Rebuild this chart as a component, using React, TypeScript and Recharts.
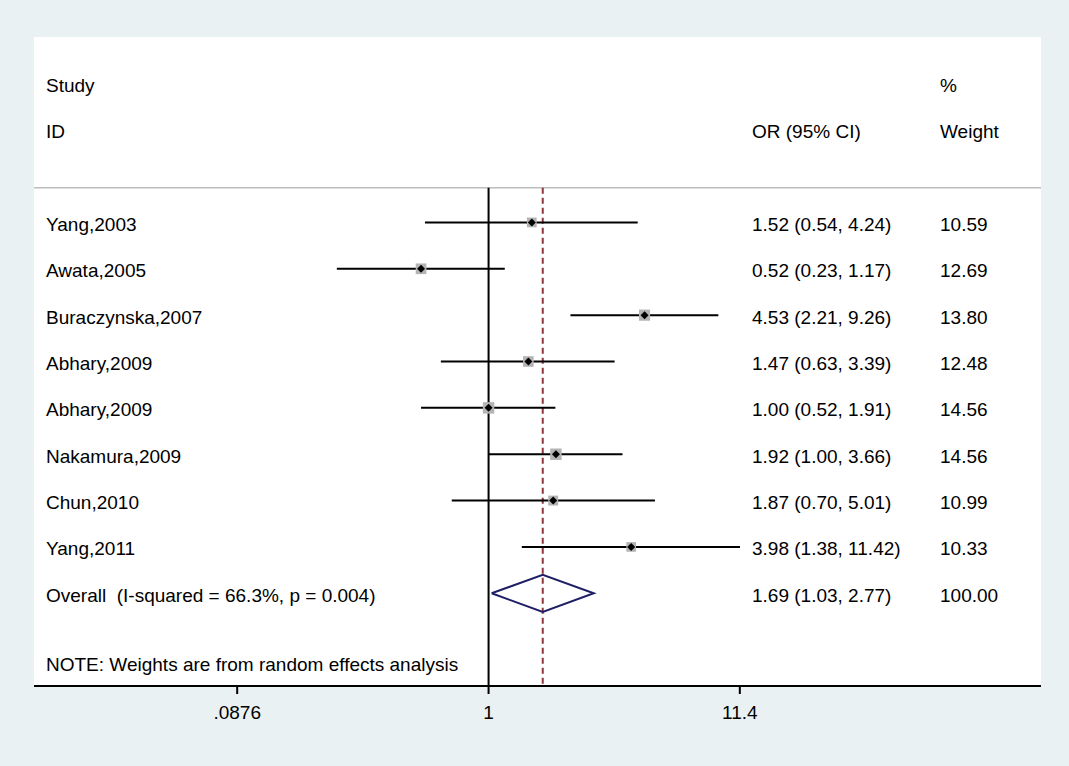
import React from 'react';
import { ComposedChart, XAxis, YAxis, Scatter, ErrorBar, Line, ReferenceLine, CartesianGrid } from 'recharts';

const studies = ['Yang,2003', 'Awata,2005', 'Buraczynska,2007', 'Abhary,2009', 'Abhary,2009', 'Nakamura,2009', 'Chun,2010', 'Yang,2011'];
const oddsRatios = [1.52, 0.52, 4.53, 1.47, 1.0, 1.92, 1.87, 3.98];
const ciLower = [0.54, 0.23, 2.21, 0.63, 0.52, 1.0, 0.7, 1.38];
const ciUpper = [4.24, 1.17, 9.26, 3.39, 1.91, 3.66, 5.01, 11.42];
const weights = [10.59, 12.69, 13.8, 12.48, 14.56, 14.56, 10.99, 10.33];

const overallLabel = 'Overall  (I-squared = 66.3%, p = 0.004)';
const overallOR = 1.69;
const overallLower = 1.03;
const overallUpper = 2.77;
const overallWeight = 100;
const noteText = 'NOTE: Weights are from random effects analysis';

const xTicks = [0.0876, 1, 11.4];

// layout
const FONT = '"Liberation Sans", Arial, Helvetica, sans-serif';
const X_DOMAIN: [number, number] = [0.01224, 210.8];
const Y_DOMAIN: [number, number] = [-4, 10];
const HEADER_ROWS = [-3, -2];
const SEP_ROW = -0.75;
const OVERALL_ROW = studies.length;
const NOTE_ROW = studies.length + 1.5;
const COL_LABEL = 46;
const COL_OR = 752;
const COL_WT = 940;

const fmt = (v: number) => v.toFixed(2);

type RowText = { x: number; y: number; label: string; or?: string; wt?: string };
// x is only a dummy anchor for the text rows; columns are placed by the shape
const rowTexts: RowText[] = [
  { x: 1, y: HEADER_ROWS[0], label: 'Study', wt: '%' },
  { x: 1, y: HEADER_ROWS[1], label: 'ID', or: 'OR (95% CI)', wt: 'Weight' },
  ...studies.map((s, i) => ({
    x: 1,
    y: i,
    label: s,
    or: `${fmt(oddsRatios[i])} (${fmt(ciLower[i])}, ${fmt(ciUpper[i])})`,
    wt: fmt(weights[i]),
  })),
  {
    x: 1,
    y: OVERALL_ROW,
    label: overallLabel,
    or: `${fmt(overallOR)} (${fmt(overallLower)}, ${fmt(overallUpper)})`,
    wt: fmt(overallWeight),
  },
  { x: 1, y: NOTE_ROW, label: noteText },
];

const studyData = studies.map((name, i) => ({
  name,
  x: oddsRatios[i],
  y: i,
  err: [oddsRatios[i] - ciLower[i], ciUpper[i] - oddsRatios[i]],
  w: weights[i],
}));

const diamondData = [
  { x: overallLower, y: OVERALL_ROW },
  { x: overallOR, y: OVERALL_ROW - 0.4 },
  { x: overallUpper, y: OVERALL_ROW },
  { x: overallOR, y: OVERALL_ROW + 0.4 },
  { x: overallLower, y: OVERALL_ROW },
];

const textStyle = { fontSize: 19, fontFamily: FONT, fill: '#000', whiteSpace: 'pre' as const };

const RowText = (props: any) => {
  const { cy, payload } = props;
  if (cy == null) return null;
  const by = cy + 8.5;
  return (
    <g>
      <text x={COL_LABEL} y={by} style={textStyle}>{payload.label}</text>
      {payload.or && <text x={COL_OR} y={by} style={textStyle}>{payload.or}</text>}
      {payload.wt && <text x={COL_WT} y={by} style={textStyle}>{payload.wt}</text>}
    </g>
  );
};

const StudyMarker = (props: any) => {
  const { cx, cy, payload } = props;
  const s = 3 * Math.sqrt(payload.w);
  const d = 4;
  return (
    <g>
      <rect x={cx - s / 2} y={cy - s / 2} width={s} height={s} fill="#b4b4b4" />
      <polygon points={`${cx},${cy - d} ${cx + d},${cy} ${cx},${cy + d} ${cx - d},${cy}`} fill="#000" />
    </g>
  );
};

const tickLabel = (v: number) => String(v).replace(/^0\./, '.');

const XTick = (props: any) => {
  const { x, y, payload } = props;
  return (
    <text x={x} y={y + 13.5} textAnchor="middle" style={textStyle}>
      {tickLabel(payload.value)}
    </text>
  );
};

export default function App() {
  return (
    <div style={{ position: 'absolute', left: 0, top: 0, width: 1069, height: 766, background: '#eaf1f3' }}>
      <ComposedChart
        width={1069}
        height={766}
        margin={{ top: 37, right: 28, bottom: 50, left: 34 }}
        style={{ fontFamily: FONT }}
      >
        <CartesianGrid horizontal={false} vertical={false} fill="#ffffff" />
        <XAxis
          type="number"
          dataKey="x"
          scale="log"
          domain={X_DOMAIN}
          allowDataOverflow
          ticks={xTicks}
          interval={0}
          height={30}
          tickSize={8}
          tickMargin={11}
          axisLine={{ stroke: '#000', strokeWidth: 2 }}
          tickLine={{ stroke: '#000', strokeWidth: 2 }}
          tick={<XTick />}
        />
        <YAxis type="number" dataKey="y" domain={Y_DOMAIN} allowDataOverflow reversed hide />
        <ReferenceLine y={SEP_ROW} stroke="#bdbdbd" strokeWidth={1.5} />
        <ReferenceLine
          segment={[{ x: 1, y: SEP_ROW }, { x: 1, y: Y_DOMAIN[1] }]}
          stroke="#000"
          strokeWidth={2}
        />
        <ReferenceLine
          segment={[{ x: overallOR, y: SEP_ROW }, { x: overallOR, y: Y_DOMAIN[1] }]}
          stroke="#90353b"
          strokeWidth={2}
          strokeDasharray="6 4"
        />
        <Scatter data={rowTexts} shape={<RowText />} isAnimationActive={false} />
        <Scatter data={studyData} shape={<StudyMarker />} isAnimationActive={false}>
          <ErrorBar dataKey="err" direction="x" width={0} stroke="#000" strokeWidth={2} isAnimationActive={false} />
        </Scatter>
        <Line
          data={diamondData}
          dataKey="y"
          type="linear"
          stroke="#1f1f66"
          strokeWidth={2}
          dot={false}
          activeDot={false}
          isAnimationActive={false}
        />
      </ComposedChart>
    </div>
  );
}
